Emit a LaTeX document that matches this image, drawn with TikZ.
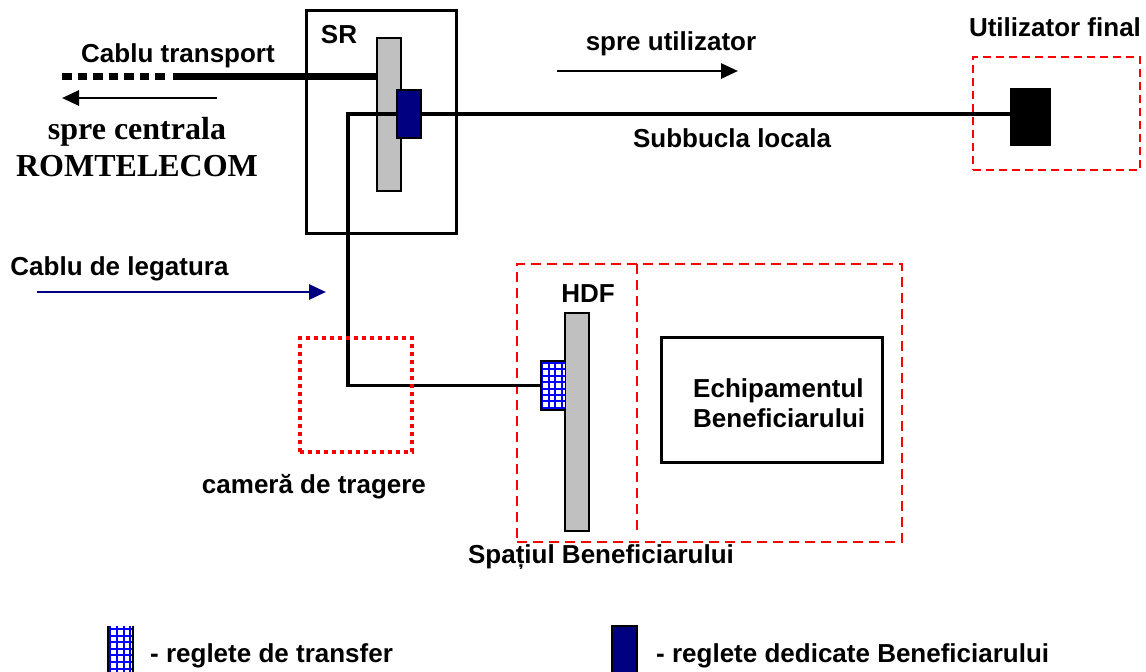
\documentclass[tikz,border=0pt]{standalone}
\usepackage{fontspec}
\setmainfont{Liberation Sans}
\newfontfamily\timesfont{Liberation Serif}
\usetikzlibrary{arrows.meta}
\definecolor{navyblue}{RGB}{0,0,128}
\definecolor{bargray}{RGB}{192,192,192}
\definecolor{gridblue}{RGB}{0,0,255}
\definecolor{zonered}{RGB}{255,0,0}
\begin{document}
\begin{tikzpicture}[x=1pt,y=-1pt,
  lbl/.style={font=\fontsize{26}{30}\selectfont\bfseries, inner sep=0pt, anchor=base},
  seriflbl/.style={font=\fontsize{32}{36}\selectfont\timesfont\bfseries, inner sep=0pt, anchor=base},
  blk/.style={inner sep=0pt, outer sep=0pt},
  boxframe/.style={blk, draw, line width=3pt},
  barbox/.style={blk, draw, line width=1.5pt, fill=bargray},
  navybox/.style={blk, draw, line width=1.5pt, fill=navyblue},
  zonedash/.style={blk, draw=zonered, line width=2.5pt, dash pattern=on 10pt off 6pt},
  zonedot/.style={blk, draw=zonered, line width=4pt, dash pattern=on 4pt off 4pt},
  gridline/.style={gridblue, line width=1.9pt},
  cable/.style={line width=3.5pt},
  trcable/.style={line width=7pt},
  tip/.style={-{Triangle[length=17pt,width=15pt]}, line width=2.8pt}
]
\useasboundingbox (0,0) rectangle (1146,672);

% ---- SR box ----
\node[boxframe, minimum width=150pt, minimum height=223pt] (sr) at (381,121.5) {};
\node[lbl] (srl) at (339,43) {SR};
\node[barbox, minimum width=24pt, minimum height=153pt] (srbar) at (389,114.5) {};

% ---- transport cable ----
\coordinate (tr0) at (62,76);
\coordinate (tr0e) at (166,76);
\coordinate (tr1) at (173,76);
\draw[trcable, dash pattern=on 9.5pt off 6pt] (tr0) -- (tr0e);
\draw[trcable] (tr1) -- (tr1 -| srbar.west);
\node[lbl] (ctl) at (178,62) {Cablu transport};

% ---- arrow to central ----
\coordinate (ac0) at (217,98);
\coordinate (ac1) at (62,98);
\draw[tip] (ac0) -- (ac1);
\node[seriflbl] (sc) at (137,139) {spre centrala};
\node[seriflbl] (rt) at (137,176) {ROMTELECOM};

% ---- HDF zone ----
\node[zonedash, minimum width=385pt, minimum height=278pt] (hdfzone) at (709.5,403) {};
\coordinate (zd0) at (637,264);
\coordinate (zd1) at (637,532);
\draw[zonered, line width=2.5pt, dash pattern=on 10pt off 6pt] (zd0) -- (zd1);
\node[lbl] (hdfl) at (588,302) {HDF};
\node[barbox, line width=2pt, minimum width=24pt, minimum height=218pt] (hdfbar) at (577,422) {};
\node[blk, fill=white, minimum width=24pt, minimum height=49pt] (grid) at (553,385.5) {};
\foreach \i in {0,...,3} \draw[gridline] (542.5+6.4*\i,361) -- (542.5+6.4*\i,410);
\foreach \j in {0,...,7} \draw[gridline] (541,363+6.4*\j) -- (565,363+6.4*\j);
\draw[line width=1.5pt] (grid.north east) -- (grid.north west) -- (grid.south west) -- (grid.south east);

% ---- inner cable ----
\node[navybox, minimum width=24pt, minimum height=48pt] (srblue) at (409,114) {};
\coordinate (bend) at (348,385.5);
\draw[cable, line join=miter] (srblue.west) -- (srblue.west -| bend) -- (bend) -- (grid.west);

% ---- user side ----
\node[zonedash, dash pattern=on 8pt off 5pt, minimum width=167pt, minimum height=113pt] (userbox) at (1056.5,113.5) {};
\node[blk, fill=black, minimum width=41pt, minimum height=58pt] (endblk) at (1030.5,117) {};
\draw[line width=4pt] (srblue.east) -- (srblue.east -| endblk.west);
\node[lbl] (ufl) at (1055,36) {Utilizator final};
\node[lbl] (sbl) at (732,147) {Subbucla locala};
\coordinate (au0) at (557,71);
\coordinate (au1) at (738,71);
\draw[tip] (au0) -- (au1);
\node[lbl] (sul) at (671,50) {spre utilizator};

% ---- cablu de legatura ----
\node[lbl] (cdl) at (119.5,275) {Cablu de legatura};
\coordinate (al0) at (37,292);
\coordinate (al1) at (326,292);
\draw[tip, navyblue] (al0) -- (al1);

% ---- camera ----
\node[zonedot, minimum width=112pt, minimum height=114pt] (camera) at (356,395) {};
\node[lbl] (caml) at (314,493) {cameră de tragere};

% ---- equipment ----
\node[boxframe, minimum width=221pt, minimum height=125pt] (equip) at (771.5,399.5) {};
\node[lbl, anchor=base west] (eq1) at (693,397) {Echipamentul};
\node[lbl, anchor=base west] (eq2) at (693,427) {Beneficiarului};
\node[lbl] (spl) at (601,563) {Spațiul Beneficiarului};

% ---- legend ----
\node[blk, fill=white, minimum width=25pt, minimum height=52pt] (leg1) at (120.5,652) {};
\foreach \i in {0,...,3} \draw[gridline] (110+6.8*\i,626) -- (110+6.8*\i,678);
\foreach \j in {0,...,7} \draw[gridline] (108,629+6.6*\j) -- (133,629+6.6*\j);
\draw[line width=1.5pt] (leg1.south west) -- (leg1.north west);
\draw[line width=1.5pt] (leg1.south east) -- (leg1.north east);
\node[lbl, anchor=base west] (lt1) at (150,662) {- reglete de transfer};
\node[navybox, minimum width=25pt, minimum height=52pt] (leg2) at (624.5,652) {};
\node[lbl, anchor=base west] (lt2) at (656,662) {- reglete dedicate Beneficiarului};
\end{tikzpicture}
\end{document}
